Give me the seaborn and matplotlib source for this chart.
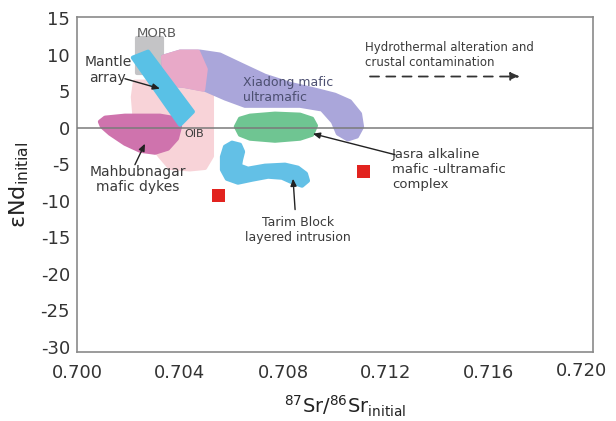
import matplotlib
matplotlib.use("Agg")
import matplotlib.pyplot as plt
import matplotlib.transforms as mtransforms
import seaborn as sns
import pandas as pd

# ---------------- data (87Sr/86Sr initial, eNd initial) ----------------
xticks = [0.700, 0.704, 0.708, 0.712, 0.716, 0.720]
xtick_labels = ["0.700", "0.704", "0.708", "0.712", "0.716", "0.720"]
yticks = [15, 10, 5, 0, -5, -10, -15, -20, -25, -30]

sample_sr = [0.70551, 0.71114]
sample_nd = [-9.3, -6.0]

morb_x = [0.70233, 0.70330, 0.70330, 0.70233]
morb_y = [12.2, 12.2, 7.5, 7.5]

oib_x = [0.70225, 0.70497, 0.70524, 0.70524, 0.70497, 0.70439, 0.70361, 0.70322, 0.70264, 0.70225, 0.70217]
oib_y = [6.3, 6.3, 4.9, -3.9, -5.5, -5.7, -5.5, -3.9, -1.2, 0.8, 4.2]

xiadong_x = [0.70334, 0.70400, 0.70478, 0.70555, 0.70645, 0.70730, 0.70827, 0.70924, 0.71002,
             0.71060, 0.71099, 0.71107, 0.71087, 0.71052, 0.71013, 0.70994, 0.70951, 0.70866,
             0.70749, 0.70652, 0.70575, 0.70497, 0.70419, 0.70342]
xiadong_y = [9.7, 10.4, 10.4, 10.0, 8.5, 7.1, 6.0, 5.2, 4.5,
             3.6, 1.9, 0.1, -1.2, -1.6, -0.8, 0.8, 2.5, 3.0,
             3.0, 3.0, 4.0, 5.2, 5.7, 6.0]

xiadong_pink_x = [0.70334, 0.70400, 0.70470, 0.70500, 0.70490, 0.70419, 0.70342]
xiadong_pink_y = [9.7, 10.4, 10.4, 8.0, 5.2, 5.7, 6.0]

mantle_x = [0.70217, 0.70276, 0.70450, 0.70400]
mantle_y = [9.58, 10.40, 2.19, 0.41]

mahbub_x = [0.70089, 0.70109, 0.70186, 0.70322, 0.70392, 0.70400, 0.70388, 0.70353, 0.70303,
            0.70245, 0.70186, 0.70128, 0.70097]
mahbub_y = [0.82, 1.37, 1.64, 1.64, 1.23, 0.14, -1.50, -2.87, -3.42,
            -3.15, -2.19, -0.82, 0.14]

jasra_x = [0.70617, 0.70633, 0.70672, 0.70769, 0.70866, 0.70913, 0.70928, 0.70913, 0.70866,
           0.70769, 0.70672, 0.70633]
jasra_y = [0.14, 1.23, 1.64, 1.92, 1.78, 1.23, 0.27, -0.96, -1.50, -1.78, -1.50, -0.96]

tarim_x = [0.70575, 0.70602, 0.70633, 0.70645, 0.70637, 0.70633, 0.70664, 0.70730, 0.70808,
           0.70858, 0.70889, 0.70897, 0.70874, 0.70839, 0.70796, 0.70742, 0.70680, 0.70625,
           0.70582, 0.70563, 0.70563]
tarim_y = [-2.60, -2.05, -2.33, -3.28, -4.38, -5.20, -5.61, -5.20, -5.06,
           -5.47, -6.29, -7.25, -7.93, -7.52, -6.84, -6.70, -7.11, -7.52,
           -6.98, -5.75, -3.97]

# ---------------- style ----------------
sns.set_theme(style="white")
plt.rcParams["font.family"] = ["DejaVu Sans"]
plt.rcParams["mathtext.default"] = "regular"

fig = plt.figure(figsize=(6.16, 4.21), dpi=100)
ax = fig.add_axes([77 / 616, 1 - 352 / 421, (593 - 77) / 616, (352 - 17) / 421])

def region(x, y, color, z, alpha=1.0):
    ax.fill(x, y, facecolor=color, edgecolor=color, linewidth=3, joinstyle="round",
            alpha=alpha, zorder=z)

region(oib_x, oib_y, "#f8d3d8", 1)
region(morb_x, morb_y, "#c4c4c6", 2)
region(xiadong_x, xiadong_y, "#aaa6da", 3)
region(xiadong_pink_x, xiadong_pink_y, "#e8a9c8", 3.5)
region(mahbub_x, mahbub_y, "#cf73ad", 4)
region(mantle_x, mantle_y, "#59c1e6", 5)
region(jasra_x, jasra_y, "#6fc592", 5)
region(tarim_x, tarim_y, "#63c0e6", 5)

ax.axhline(0, color="#7a7a7a", lw=1.1, zorder=6)

df = pd.DataFrame({"sr": sample_sr, "nd": sample_nd})
sns.scatterplot(data=df, x="sr", y="nd", marker="s", s=85, color="#e2231f",
                edgecolor="none", ax=ax, zorder=7)

tc = "#3a3a3a"
ax.text(0.70311, 12.9, "MORB", fontsize=9.5, color="#5a5a5a", ha="center", va="center", zorder=8)
ax.text(0.70120, 7.9, "Mantle\narray", fontsize=10, color=tc, ha="center", va="center",
        linespacing=1.15, zorder=8)
ax.text(0.70455, -0.9, "OIB", fontsize=8, color=tc, ha="center", va="center", zorder=8)
ax.text(0.70237, -7.1, "Mahbubnagar\nmafic dykes", fontsize=10, color=tc, ha="center",
        va="center", linespacing=1.15, zorder=8)
ax.text(0.70645, 5.2, "Xiadong mafic\nultramafic", fontsize=9, color="#4c4f70", ha="left",
        va="center", linespacing=1.2, zorder=8)
ax.text(0.71118, 9.9, "Hydrothermal alteration and\ncrustal contamination", fontsize=8.5,
        color=tc, ha="left", va="center", linespacing=1.2, zorder=8)
ax.text(0.71223, -5.75, "Jasra alkaline\nmafic -ultramafic\ncomplex", fontsize=9.5, color=tc,
        ha="left", va="center", linespacing=1.2, zorder=8)
ax.text(0.70858, -13.95, "Tarim Block\nlayered intrusion", fontsize=9, color=tc, ha="center",
        va="center", linespacing=1.2, zorder=8)

arrow = dict(arrowstyle="-|>,head_length=0.35,head_width=0.15", color="#222222", lw=1.0,
             shrinkA=0, shrinkB=0)
ax.annotate("", xy=(0.70322, 5.34), xytext=(0.70186, 6.70), arrowprops=arrow, zorder=8)
ax.annotate("", xy=(0.70264, -2.19), xytext=(0.70225, -5.06), arrowprops=arrow, zorder=8)
ax.annotate("", xy=(0.70916, -0.82), xytext=(0.71235, -3.69), arrowprops=arrow, zorder=8)
ax.annotate("", xy=(0.70839, -6.98), xytext=(0.70847, -11.2), arrowprops=arrow, zorder=8)
ax.annotate("", xy=(0.71720, 7.0), xytext=(0.71138, 7.0),
            arrowprops=dict(arrowstyle="-|>,head_length=0.45,head_width=0.2", color="#333333",
                            lw=1.3, linestyle=(0, (5, 4)), shrinkA=0, shrinkB=0), zorder=8)

ax.set_xlim(0.700, 0.72004)
ax.set_ylim(-30.68, 15.14)
ax.set_xticks(xticks)
ax.set_xticklabels(xtick_labels)
ax.set_yticks(yticks)
ax.set_yticklabels([str(v) for v in yticks])
ax.tick_params(axis="both", direction="in", length=5, width=1, color="#8a8a8a",
               labelsize=13, labelcolor="#333333")
ax.tick_params(axis="x", pad=9)
ax.tick_params(axis="y", pad=5)
for s in ax.spines.values():
    s.set_color("#8a8a8a")
    s.set_linewidth(1.2)

# last x tick label sits slightly left and higher, as in the reference
last = ax.get_xticklabels()[-1]
last.set_transform(last.get_transform() + mtransforms.ScaledTranslation(-10 / 100, 3 / 100,
                                                                       fig.dpi_scale_trans))

ax.set_xlabel(r"$^{87}$Sr/$^{86}$Sr$_{initial}$", fontsize=14, color="#222222")
ax.xaxis.set_label_coords(0.52, -0.125)
ax.set_ylabel(r"εNd$_{initial}$", fontsize=16, color="#222222")
ax.yaxis.set_label_coords(-0.09, 0.5)

fig.savefig("out.png", dpi=100, facecolor="white")
